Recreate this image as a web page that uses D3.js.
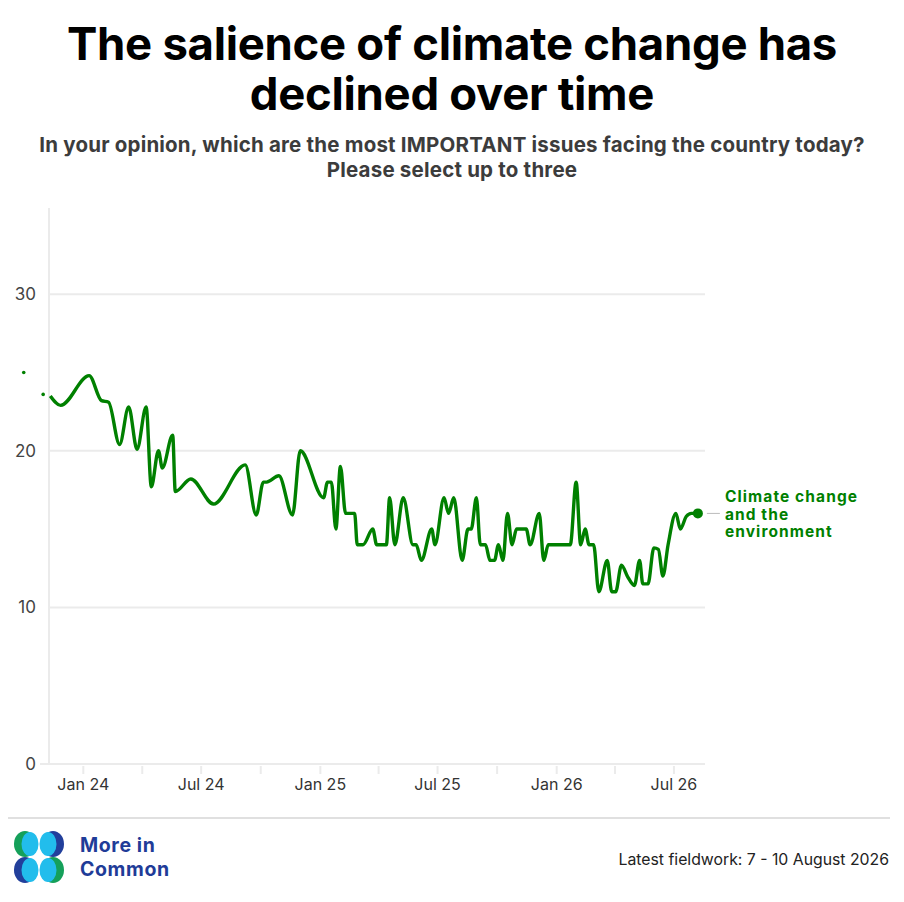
<!DOCTYPE html>
<html>
<head>
<meta charset="utf-8">
<script src="https://cdn.jsdelivr.net/npm/d3@7"></script>
<style>
  html, body { margin: 0; padding: 0; background: #fff; }
  svg { display: block; font-family: Inter, "Noto Sans", sans-serif; }
</style>
</head>
<body>
<svg id="chart" width="904" height="902"></svg>
<script>
// Weekly-ish poll readings (%). null = gap in the series.
const dates = [
  "2023-10-01", null, "2023-10-31", null,
  "2023-11-11", "2023-11-27", "2024-01-10", "2024-01-29", "2024-02-09", "2024-02-26",
  "2024-03-11", "2024-03-24", "2024-04-07", "2024-04-15", "2024-04-26", "2024-05-02",
  "2024-05-18", "2024-05-22", "2024-06-15", "2024-07-20", "2024-09-07", "2024-09-24",
  "2024-10-05", "2024-10-10", "2024-10-29", "2024-11-19", "2024-12-01", "2025-01-06",
  "2025-01-12", "2025-01-18", "2025-01-25", "2025-02-01", "2025-02-09", "2025-02-23",
  "2025-02-27", "2025-03-08", "2025-03-23", "2025-03-29", "2025-04-13", "2025-04-18",
  "2025-04-26", "2025-05-09", "2025-05-24", "2025-05-29", "2025-06-06", "2025-06-22",
  "2025-06-27", "2025-07-11", "2025-07-18", "2025-07-26", "2025-08-08", "2025-08-17",
  "2025-08-22", "2025-08-30", "2025-09-05", "2025-09-13", "2025-09-20", "2025-09-27",
  "2025-10-03", "2025-10-10", "2025-10-17", "2025-10-24", "2025-10-31", "2025-11-15",
  "2025-11-21", "2025-12-05", "2025-12-12", "2025-12-19", "2026-01-22", "2026-01-31",
  "2026-02-07", "2026-02-14", "2026-02-20", "2026-02-27", "2026-03-07", "2026-03-20",
  "2026-03-27", "2026-04-02", "2026-04-11", "2026-04-20", "2026-05-01", "2026-05-09",
  "2026-05-14", "2026-05-22", "2026-05-31", "2026-06-07", "2026-06-14", "2026-06-22",
  "2026-07-04", "2026-07-11", "2026-07-20", "2026-07-28", "2026-08-07"
];
const climateValues = [
  25.0, null, 23.6, null,
  23.5, 22.9, 24.8, 23.2, 23.1, 20.4,
  22.8, 20.1, 22.8, 17.7, 20.0, 18.9,
  21.0, 17.4, 18.2, 16.6, 19.1, 15.9,
  18.0, 18.0, 18.4, 15.9, 20.0, 17.0,
  18, 18, 15, 19, 16, 16,
  14, 14, 15, 14, 14, 17,
  14, 17, 14, 14, 13, 15,
  14, 17, 16, 17, 13, 15,
  15, 17, 14, 14, 13, 13,
  14, 13, 16, 14, 15, 15,
  14, 16, 13, 14, 14, 18,
  14, 15, 14, 14, 11, 13,
  11, 11, 12.7, 12, 11.4, 13,
  11.5, 11.5, 13.8, 13.7, 12, 14,
  16, 15, 15.8, 16, 16
];
const seriesName = ["Climate change", "and the", "environment"];
const yTicks = [0, 10, 20, 30];
const xTickDates = ["2024-01-01", "2024-04-01", "2024-07-01", "2024-10-01", "2025-01-01",
  "2025-04-01", "2025-07-01", "2025-10-01", "2026-01-01", "2026-04-01", "2026-07-01"];
const xTickLabels = ["Jan 24", "", "Jul 24", "", "Jan 25", "", "Jul 25", "", "Jan 26", "", "Jul 26"];

const titleLines = ["The salience of climate change has", "declined over time"];
const subtitleLines = ["In your opinion, which are the most IMPORTANT issues facing the country today?",
  "Please select up to three"];
const footnote = "Latest fieldwork: 7 - 10 August 2026";

const GREEN = "#008000";
const GRID = "#ebebeb";
const parseDate = d3.timeParse("%Y-%m-%d");

const margin = { left: 49, right: 199, top: 208, bottom: 138 };
const svg = d3.select("#chart");
const W = +svg.attr("width"), H = +svg.attr("height");

const data = dates.map((d, i) => ({ date: d ? parseDate(d) : null, value: climateValues[i] }));

const xScale = d3.scaleTime()
    .domain([parseDate("2023-11-09"), parseDate("2026-08-18")])
    .range([margin.left, W - margin.right]);
const yScale = d3.scaleLinear()
    .domain([0, 35.5])
    .range([H - margin.bottom, margin.top]);

// Titles
svg.append("g").selectAll("text")
    .data(titleLines)
    .enter().append("text")
    .attr("x", W / 2)
    .attr("y", (d, i) => 60 + i * 50)
    .attr("text-anchor", "middle")
    .style("font-size", "45.5px")
    .style("font-weight", 700)
    .style("letter-spacing", "-0.3px")
    .style("fill", "#000")
    .text(d => d);

svg.append("g").selectAll("text")
    .data(subtitleLines)
    .enter().append("text")
    .attr("x", W / 2)
    .attr("y", (d, i) => 152 + i * 25)
    .attr("text-anchor", "middle")
    .style("font-size", "20.5px")
    .style("font-weight", 700)
    .style("letter-spacing", "0.2px")
    .style("fill", "#3c3c3c")
    .text(d => d);

// Gridlines + y labels
const yAxisG = svg.append("g");
yAxisG.selectAll("line.grid")
    .data(yTicks.filter(t => t > 0))
    .enter().append("line")
    .attr("class", "grid")
    .attr("x1", margin.left).attr("x2", W - margin.right)
    .attr("y1", d => yScale(d)).attr("y2", d => yScale(d))
    .style("stroke", GRID).style("stroke-width", 2);

yAxisG.selectAll("text")
    .data(yTicks)
    .enter().append("text")
    .attr("x", 36)
    .attr("y", d => yScale(d) + 6)
    .attr("text-anchor", "end")
    .style("font-size", "17px")
    .style("fill", "#444")
    .text(d => d);

// axis lines
svg.append("line")
    .attr("x1", margin.left).attr("x2", margin.left)
    .attr("y1", margin.top).attr("y2", yScale(0))
    .style("stroke", GRID).style("stroke-width", 2);
svg.append("line")
    .attr("x1", 40).attr("x2", W - margin.right)
    .attr("y1", yScale(0)).attr("y2", yScale(0))
    .style("stroke", GRID).style("stroke-width", 2);

// x ticks
const xAxisG = svg.append("g");
xAxisG.selectAll("line")
    .data(xTickDates)
    .enter().append("line")
    .attr("x1", d => xScale(parseDate(d))).attr("x2", d => xScale(parseDate(d)))
    .attr("y1", yScale(0) + 2).attr("y2", yScale(0) + 10)
    .style("stroke", GRID).style("stroke-width", 2);
xAxisG.selectAll("text")
    .data(xTickDates)
    .enter().append("text")
    .attr("x", d => xScale(parseDate(d)))
    .attr("y", yScale(0) + 26)
    .attr("text-anchor", "middle")
    .style("font-size", "16px")
    .style("fill", "#333")
    .text((d, i) => xTickLabels[i]);

// the line
const line = d3.line()
    .defined(d => d.value != null)
    .x(d => xScale(d.date))
    .y(d => yScale(d.value))
    .curve(d3.curveMonotoneX);

svg.append("path")
    .datum(data)
    .attr("d", line)
    .style("fill", "none")
    .style("stroke", GREEN)
    .style("stroke-width", 3.4)
    .style("stroke-linejoin", "round");

// isolated readings show up as dots
const isolated = data.filter((d, i) => d.value != null &&
    (i === 0 || data[i - 1].value == null) && (i === data.length - 1 || data[i + 1].value == null));
svg.append("g").selectAll("circle")
    .data(isolated)
    .enter().append("circle")
    .attr("cx", d => xScale(d.date))
    .attr("cy", d => yScale(d.value))
    .attr("r", 1.8)
    .style("fill", GREEN);

// end point + label
const last = data[data.length - 1];
svg.append("circle")
    .attr("cx", xScale(last.date))
    .attr("cy", yScale(last.value))
    .attr("r", 5)
    .style("fill", GREEN);
svg.append("line")
    .attr("x1", xScale(last.date) + 9).attr("x2", xScale(last.date) + 22)
    .attr("y1", yScale(last.value)).attr("y2", yScale(last.value))
    .style("stroke", "#bbb").style("stroke-width", 1);
svg.append("g").selectAll("text")
    .data(seriesName)
    .enter().append("text")
    .attr("x", xScale(last.date) + 27)
    .attr("y", (d, i) => yScale(last.value) - 11 + i * 17.5)
    .style("font-size", "15.5px")
    .style("font-weight", 700)
    .style("letter-spacing", "1.1px")
    .style("fill", GREEN)
    .text(d => d);

// footer
svg.append("line")
    .attr("x1", 8).attr("x2", 890)
    .attr("y1", 818).attr("y2", 818)
    .style("stroke", "#e0e0e0").style("stroke-width", 2);

svg.append("text")
    .attr("x", 889).attr("y", 865)
    .attr("text-anchor", "end")
    .style("font-size", "15.8px")
    .style("fill", "#222")
    .text(footnote);

// logo: four leaves with cyan overlaps
const logo = svg.append("g").attr("transform", "translate(39,857)");
const leaves = [
    { dx: -1, dy: -1, c: "#15a05a" }, { dx: 1, dy: -1, c: "#223f9b" },
    { dx: -1, dy: 1, c: "#223f9b" }, { dx: 1, dy: 1, c: "#15a05a" }
];
leaves.forEach(l => {
    logo.append("ellipse")
        .attr("cx", l.dx * 14).attr("cy", l.dy * 13)
        .attr("rx", 11).attr("ry", 13)
        .style("fill", l.c);
});
leaves.forEach(l => {
    logo.append("ellipse")
        .attr("cx", l.dx * 9).attr("cy", l.dy * 13)
        .attr("rx", 8.5).attr("ry", 12)
        .style("fill", "#22bdec");
});
svg.append("g").selectAll("text")
    .data(["More in", "Common"])
    .enter().append("text")
    .attr("x", 80)
    .attr("y", (d, i) => 852 + i * 23.5)
    .style("font-size", "19.5px")
    .style("font-weight", 700)
    .style("letter-spacing", "0.6px")
    .style("fill", "#1f3c98")
    .text(d => d);
</script>
</body>
</html>
